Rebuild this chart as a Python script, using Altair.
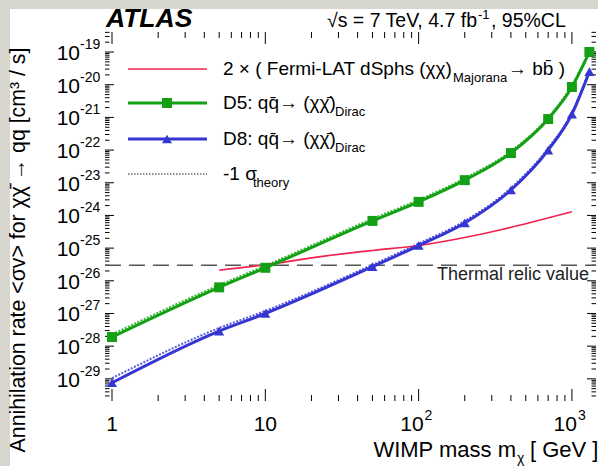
import altair as alt
import pandas as pd

# ---------------- data ----------------
mass = [1, 5, 10, 50, 100, 200, 400, 700, 1000, 1300]
d5 = [1.9e-28, 6.3e-27, 2.5e-26, 6.8e-25, 2.6e-24, 1.2e-23, 8.1e-23, 8.9e-22, 8.5e-21, 1.0e-19]
d5_theory = [2.3e-28, 7.4e-27, 2.9e-26, 7.9e-25, 3.0e-24, 1.38e-23, 9.3e-23, 1.0e-21, 9.6e-21, 1.1e-19]
d8 = [7.6e-30, 2.9e-28, 1.0e-27, 2.7e-26, 1.2e-25, 5.9e-25, 6.0e-24, 1.0e-22, 1.26e-21, 2.5e-20]
d8_theory = [1.05e-29, 3.6e-28, 1.2e-27, 3.1e-26, 1.38e-25, 6.8e-25, 6.9e-24, 1.15e-22, 1.42e-21, 2.75e-20]
mass_fermi = [5, 10, 25, 50, 100, 200, 350, 500, 1000]
fermi = [2.1e-26, 3.1e-26, 5.8e-26, 8.5e-26, 1.2e-25, 2.1e-25, 3.7e-25, 5.6e-25, 1.3e-24]
thermal = 3e-26

x_major = [1, 10, 100, 1000]
x_labels = ["1", "10", "10", "10"]
x_exps = ["", "", "2", "3"]
y_exps = list(range(-29, -18))

X_DOMAIN = [0.9, 1436]
Y_DOMAIN = [2.1e-30, 4.1e-19]

RED = "#f2224c"
GREEN = "#14a014"
BLUE = "#3535d2"
FONT = "Liberation Sans"
W, H = 491, 369

xs = alt.Scale(type="log", domain=X_DOMAIN, nice=False)
ys = alt.Scale(type="log", domain=Y_DOMAIN, nice=False)


def X(f="m"):
    return alt.X(f"{f}:Q", scale=xs, axis=None)


def Y(f="v"):
    return alt.Y(f"{f}:Q", scale=ys, axis=None)


def txt(s, x, y, size, align="left", baseline="alphabetic", color="black",
        weight="normal", style="normal", angle=0):
    return alt.Chart(pd.DataFrame({"t": [s]})).mark_text(
        align=align, baseline=baseline, fontSize=size, font=FONT, color=color,
        fontWeight=weight, fontStyle=style, angle=angle
    ).encode(x=alt.value(x), y=alt.value(y), text="t:N")


def one():
    return alt.Chart(pd.DataFrame({"a": [0]}))


layers = []

# white panel over the gray page
layers.append(one().mark_rect(color="white").encode(
    x=alt.value(-95), x2=alt.value(493), y=alt.value(-23), y2=alt.value(434)))

# ticks
y_minor = [m * 10.0 ** e for e in range(-30, -18) for m in range(2, 10)
           if Y_DOMAIN[0] < m * 10.0 ** e < Y_DOMAIN[1]]
x_minor = [m * 10.0 ** e for e in range(0, 4) for m in range(2, 10)
           if X_DOMAIN[0] < m * 10.0 ** e < X_DOMAIN[1]]
df_ymaj = pd.DataFrame({"v": [10.0 ** e for e in y_exps], "e": [str(e) for e in y_exps]})
df_ymin = pd.DataFrame({"v": y_minor})
df_xmaj = pd.DataFrame({"m": x_major, "lab": x_labels, "e": x_exps})
df_xmin = pd.DataFrame({"m": x_minor})

for df, ln in [(df_ymaj, 9), (df_ymin, 4.5)]:
    layers.append(alt.Chart(df).mark_rule(color="black", strokeWidth=1).encode(
        y=Y(), x=alt.value(0), x2=alt.value(ln)))
    layers.append(alt.Chart(df).mark_rule(color="black", strokeWidth=1).encode(
        y=Y(), x=alt.value(W - ln), x2=alt.value(W)))
for df, ln in [(df_xmaj, 12), (df_xmin, 6)]:
    layers.append(alt.Chart(df).mark_rule(color="black", strokeWidth=1).encode(
        x=X(), y=alt.value(H - ln), y2=alt.value(H)))
    layers.append(alt.Chart(df).mark_rule(color="black", strokeWidth=1).encode(
        x=X(), y=alt.value(0), y2=alt.value(ln)))

# tick labels
layers.append(alt.Chart(df_ymaj).mark_text(
    align="right", baseline="middle", fontSize=21, font=FONT, dy=2, color="black"
).encode(y=Y(), x=alt.value(-25), text=alt.value("10")))
layers.append(alt.Chart(df_ymaj).mark_text(
    align="left", baseline="middle", fontSize=14, font=FONT, dy=-7, color="black"
).encode(y=Y(), x=alt.value(-25), text="e:N"))

df_xplain = df_xmaj[df_xmaj["e"] == ""]
df_xexp = df_xmaj[df_xmaj["e"] != ""]
layers.append(alt.Chart(df_xplain).mark_text(
    align="center", baseline="middle", fontSize=21, font=FONT, color="black"
).encode(x=X(), y=alt.value(393), text="lab:N"))
layers.append(alt.Chart(df_xexp).mark_text(
    align="right", baseline="middle", fontSize=21, font=FONT, dx=5, color="black"
).encode(x=X(), y=alt.value(393), text="lab:N"))
layers.append(alt.Chart(df_xexp).mark_text(
    align="left", baseline="middle", fontSize=14, font=FONT, dx=6, dy=-9, color="black"
).encode(x=X(), y=alt.value(393), text="e:N"))

# thermal relic line
layers.append(alt.Chart(pd.DataFrame({"v": [thermal]})).mark_rule(
    color="#555555", strokeWidth=1.6, strokeDash=[16, 8]
).encode(y=Y(), x=alt.value(0), x2=alt.value(W)))
layers.append(txt("Thermal relic value", 484, 248, 18, align="right", color="#222222"))

# data curves
df_d5 = pd.DataFrame({"m": mass, "v": d5})
df_d5t = pd.DataFrame({"m": mass, "v": d5_theory})
df_d8 = pd.DataFrame({"m": mass, "v": d8})
df_d8t = pd.DataFrame({"m": mass, "v": d8_theory})
df_f = pd.DataFrame({"m": mass_fermi, "v": fermi})

layers.append(alt.Chart(df_d5t).mark_line(
    color="#3fb83f", strokeWidth=2, strokeDash=[2, 1.5], interpolate="monotone"
).encode(x=X(), y=Y()))
layers.append(alt.Chart(df_d8t).mark_line(
    color="#5a5ae0", strokeWidth=2, strokeDash=[2, 1.5], interpolate="monotone"
).encode(x=X(), y=Y()))
layers.append(alt.Chart(df_f).mark_line(
    color=RED, strokeWidth=1.6, interpolate="monotone"
).encode(x=X(), y=Y()))
layers.append(alt.Chart(df_d5).mark_line(
    color=GREEN, strokeWidth=3, interpolate="monotone"
).encode(x=X(), y=Y()))
layers.append(alt.Chart(df_d8).mark_line(
    color=BLUE, strokeWidth=3, interpolate="monotone"
).encode(x=X(), y=Y()))
layers.append(alt.Chart(df_d5).mark_point(
    shape="square", filled=True, size=100, color=GREEN, opacity=1
).encode(x=X(), y=Y()))
layers.append(alt.Chart(df_d8).mark_point(
    shape="triangle-up", filled=True, size=100, color=BLUE, opacity=1
).encode(x=X(), y=Y()))

# legend
LX1, LX2, LMX, TX = 23, 102, 62, 118
ly = [37, 71, 107, 142]
layers.append(one().mark_rule(color=RED, strokeWidth=1.6).encode(
    x=alt.value(LX1), x2=alt.value(LX2), y=alt.value(ly[0])))
layers.append(one().mark_rule(color=GREEN, strokeWidth=3).encode(
    x=alt.value(LX1), x2=alt.value(LX2), y=alt.value(ly[1])))
layers.append(one().mark_point(shape="square", filled=True, size=100, color=GREEN, opacity=1).encode(
    x=alt.value(LMX), y=alt.value(ly[1])))
layers.append(one().mark_rule(color=BLUE, strokeWidth=3).encode(
    x=alt.value(LX1), x2=alt.value(LX2), y=alt.value(ly[2])))
layers.append(one().mark_point(shape="triangle-up", filled=True, size=100, color=BLUE, opacity=1).encode(
    x=alt.value(LMX), y=alt.value(ly[2])))
layers.append(one().mark_rule(color="#222222", strokeWidth=1.2, strokeDash=[1.5, 1.5]).encode(
    x=alt.value(LX1), x2=alt.value(LX2), y=alt.value(ly[3])))

LF = 19
SF = 13
layers.append(txt("2 × ( Fermi-LAT dSphs (χχ)", TX, ly[0], LF, baseline="middle"))
layers.append(txt("Majorana", 348, ly[0] + 9, SF, baseline="middle"))
layers.append(txt("→ bb\u0304 )", 403, ly[0], LF, baseline="middle"))
layers.append(txt("D5: qq\u0304→ (χχ\u0304)", TX, ly[1], LF, baseline="middle"))
layers.append(txt("Dirac", 230, ly[1] + 9, SF, baseline="middle"))
layers.append(txt("D8: qq\u0304→ (χχ\u0304)", TX, ly[2], LF, baseline="middle"))
layers.append(txt("Dirac", 230, ly[2] + 9, SF, baseline="middle"))
layers.append(txt("-1 σ", TX, ly[3], LF, baseline="middle"))
layers.append(txt("theory", 148, ly[3] + 9, SF, baseline="middle"))

# titles
layers.append(txt("ATLAS", 1, -5, 26.5, weight="bold", style="italic"))
layers.append(txt("√s = 7 TeV, 4.7 fb", 372, -5, 19.5, align="right"))
layers.append(txt("-1", 373, -13, 13))
layers.append(txt(", 95%CL", 386, -5, 19.5))
layers.append(txt("Annihilation rate <σv> for χχ\u0304 → qq  [cm³ / s]", -86, 218, 21.3,
                  align="center", baseline="middle", angle=270))
layers.append(txt("WIMP mass m", 411, 425, 22, align="right"))
layers.append(txt("χ", 412, 431, 14))
layers.append(txt("[ GeV ]", 425, 425, 22))

chart = alt.layer(*layers).properties(
    width=W, height=H,
    padding={"left": 105, "top": 32, "right": 2, "bottom": 65},
    autosize=alt.AutoSizeParams(type="none"),
    background="#d7d7d0",
).configure_view(stroke="black", strokeWidth=1.5)

chart.save("out.html", embed_options={"renderer": "svg", "actions": False})
